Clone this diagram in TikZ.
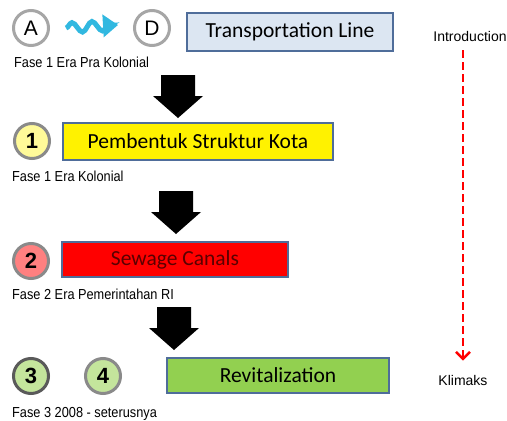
\documentclass[tikz,border=0pt]{standalone}
\usepackage{fontspec}
\setmainfont{Liberation Sans}
\newfontfamily\boxfont{Carlito}
\newfontfamily\labelfont{Liberation Sans}[FakeStretch=0.88]
\usetikzlibrary{arrows.meta,decorations.pathmorphing,calc}
\definecolor{tlfill}{HTML}{DCE6F2}
\definecolor{boxline}{HTML}{4F6D9A}
\definecolor{wavecol}{HTML}{31B8E0}
\definecolor{ringlight}{HTML}{A6A6A6}
\definecolor{ringmid}{HTML}{8A8A8A}
\definecolor{ringdark}{HTML}{5A5A5A}
\definecolor{redtext}{HTML}{5A0000}
\definecolor{revgreen}{HTML}{92D050}
\definecolor{lightgreen}{HTML}{C4E59C}

\begin{document}
\begin{tikzpicture}[x=1pt,y=-1pt,
stagebox/.style={
% The shape:
rectangle,inner sep=0pt,
% The border:
line width=1.5pt,draw=boxline,
% Font
font=\boxfont\fontsize{21.5}{21.5}\selectfont
},
ring/.style={
circle,minimum size=35pt,inner sep=0pt,
line width=3pt,draw=ringlight,fill=white,
font=\fontsize{21}{21}\selectfont
},
numring/.style={ring,font=\bfseries\fontsize{22}{22}\selectfont},
phase/.style={anchor=base west,inner sep=0pt,font=\labelfont\fontsize{14.5}{14.5}\selectfont},
side/.style={anchor=base,inner sep=0pt,font=\fontsize{14}{14}\selectfont},
blkarrow/.pic={\fill[black] (-17,0) -- (17,0) -- (17,21) -- (25,21) -- (0,43)
  -- (-25,21) -- (-17,21) -- cycle;}]
\useasboundingbox (0,0) rectangle (507,421);

% first row
\node (A) [ring] at (31,28) {A};
\node (D) [ring] at (152,28) {D};
\node (tl) [stagebox,fill=tlfill,minimum width=206pt,minimum height=38pt] at (290,32) {Transportation Line};
\node (f0) [phase] at (14,67) {Fase 1 Era Pra Kolonial};
\coordinate (w0) at ($(A.east)+(16,0)$);
\coordinate (w1) at ($(D.west)+(-15,-3)$);
\draw[wavecol,line width=5pt,-{Triangle[width=22pt,length=15pt]},
  decorate,decoration={snake,amplitude=5pt,segment length=20pt,post length=4pt}] (w0) -- (w1);

% stages
\node (n1) [numring,fill=yellow!40,draw=ringmid] at (32,141) {1};
\node (s1) [stagebox,fill=yellow,minimum width=270pt,minimum height=37pt] at (198,141.5) {Pembentuk Struktur Kota};
\node (f1) [phase] at (12,181) {Fase 1 Era Kolonial};

\node (n2) [numring,fill=red!50,draw=ringmid] at (31,261) {2};
\node (s2) [stagebox,fill=red,text=redtext,minimum width=226pt,minimum height=35pt] at (175,259.5) {Sewage Canals};
\node (f2) [phase] at (12,299) {Fase 2 Era Pemerintahan RI};

\node (n3) [numring,fill=lightgreen,draw=ringdark] at (31,376) {3};
\node (n4) [numring,fill=lightgreen,draw=ringmid] at (103,376) {4};
\node (s3) [stagebox,fill=revgreen,minimum width=222pt,minimum height=35pt] at (278,375.5) {Revitalization};
\node (f3) [phase] at (12,417) {Fase 3 2008 - seterusnya};

% block arrows
\pic at (178,75) {blkarrow};
\pic at (176,191) {blkarrow};
\pic at (174,307) {blkarrow};

% side scale
\node (intro) [side] at (470,41) {Introduction};
\node (klim) [side] at (463,385) {Klimaks};
\draw[red,line width=2.5pt,dash pattern=on 8pt off 4pt,-{Straight Barb[length=7pt,width=14pt]},
  shorten <=9pt,shorten >=14pt] (intro.south -| klim) -- (klim.north);
\end{tikzpicture}
\end{document}
